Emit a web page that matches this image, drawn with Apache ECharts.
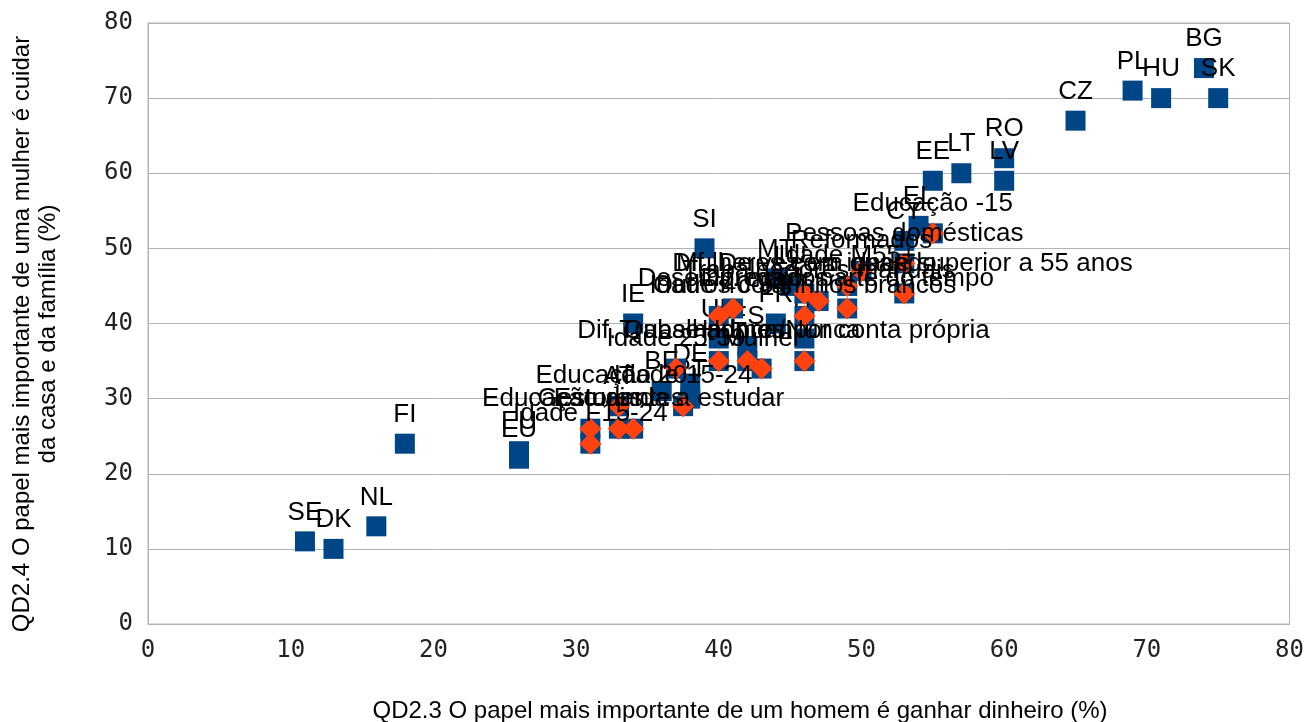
<!DOCTYPE html>
<html>
<head>
<meta charset="utf-8">
<script src="https://cdn.jsdelivr.net/npm/echarts@6/dist/echarts.min.js"></script>
<style>
html,body{margin:0;padding:0;background:#fff;}
#chart{width:1307px;height:722px;}
</style>
</head>
<body>
<div id="chart"></div>
<script>
// Countries (blue squares)
const countryNames = ['SE','DK','NL','FI','EU','EU','IE','SI','MT','EL','CY','EE','LT','RO','LV','CZ','PL','HU','BG','SK','BE','DE','AT','PT','UK','FR','ES','IT','LU'];
const countryX = [11,13,16,18,26,26,34,39,44,54,53,55,57,60,60,65,69,71,74,75,36,38,33,38,40,44,42,46,45];
const countryY = [11,10,13,24,23,22,40,50,46,53,51,59,60,62,59,67,71,70,74,70,31,32,29,30,38,40,37,38,45];

// Socio-demographic groups (orange diamonds)
const groupNames = ['Gestores','Idade F15-24','Estudantes','Educação ainda a estudar','Educação 20+','Idade 15-24','Idade 25-39','Dif. Quase nunca/Nunca','Homem','Mulher','Idade 40-54','Desempregados','Outros colarinhos brancos','Trabalhadores manuais','Dif. De vez em quando','Dif. maior parte do tempo','Idade M55+','Reformados','Pessoas domésticas','Educação -15','Trabalhadores por conta própria','Mulheres com idade superior a 55 anos'];
const groupX = [31,31,33,34,33,37.5,37,40,42,43,40,41,46,47,46,49,49,50,53,55,46,53];
const groupY = [26,24,26,26,29,29,34,35,35,34,41,42,41,43,44,42,45,47,48,52,35,44];

const xTicks = [0,10,20,30,40,50,60,70,80];
const yTicks = [0,10,20,30,40,50,60,70,80];

const xTitle = 'QD2.3 O papel mais importante de um homem é ganhar dinheiro (%)';
const yTitle = 'QD2.4 O papel mais importante de uma mulher é cuidar\nda casa e da família (%)';

const BLUE = '#004586', ORANGE = '#ff420e';
const countryData = countryNames.map((n,i)=>({name:n,value:[countryX[i],countryY[i]]}));
const groupData = groupNames.map((n,i)=>({name:n,value:[groupX[i],groupY[i]]}));

const labelStyle = {
  show:true, position:'top', distance:6, formatter:'{b}',
  color:'#000', fontSize:26, fontFamily:'Liberation Sans', lineHeight:26
};

const chart = echarts.init(document.getElementById('chart'), null, {renderer:'canvas'});
chart.setOption({
  animation:false,
  backgroundColor:'#fff',
  grid:{left:148, top:23, right:15, bottom:98, show:true, borderColor:'#b3b3b3', borderWidth:1, backgroundColor:'transparent'},
  xAxis:{
    type:'value', min:xTicks[0], max:xTicks[xTicks.length-1], interval:10,
    axisLine:{show:true, onZero:false, lineStyle:{color:'#b3b3b3'}},
    axisTick:{show:false},
    splitLine:{show:false},
    axisLabel:{color:'#222', fontSize:24, fontFamily:'DejaVu Sans Mono', margin:15}
  },
  yAxis:{
    type:'value', min:yTicks[0], max:yTicks[yTicks.length-1], interval:10,
    axisLine:{show:true, onZero:false, lineStyle:{color:'#b3b3b3'}},
    axisTick:{show:false},
    splitLine:{show:true, lineStyle:{color:'#b3b3b3', width:1}},
    axisLabel:{color:'#222', fontSize:24, fontFamily:'DejaVu Sans Mono', margin:15}
  },
  graphic:[
    {type:'text', x:740, y:711, style:{text:xTitle, fontSize:24, fontFamily:'Liberation Sans', fill:'#000', align:'center', verticalAlign:'middle'}},
    {type:'text', x:35, y:334, rotation:Math.PI/2, style:{text:yTitle, fontSize:24, lineHeight:26, fontFamily:'Liberation Sans', fill:'#000', align:'center', verticalAlign:'middle'}}
  ],
  series:[
    {type:'scatter', name:'Países', symbol:'rect', symbolSize:20, itemStyle:{color:BLUE, opacity:1}, data:countryData, label:labelStyle, z:2},
    {type:'scatter', name:'base', symbol:'rect', symbolSize:20, itemStyle:{color:BLUE, opacity:1}, data:groupData, label:{show:false}, z:3},
    {type:'scatter', name:'Grupos', symbol:'diamond', symbolSize:22, itemStyle:{color:ORANGE, opacity:1}, data:groupData, label:labelStyle, z:4}
  ]
});
</script>
</body>
</html>
